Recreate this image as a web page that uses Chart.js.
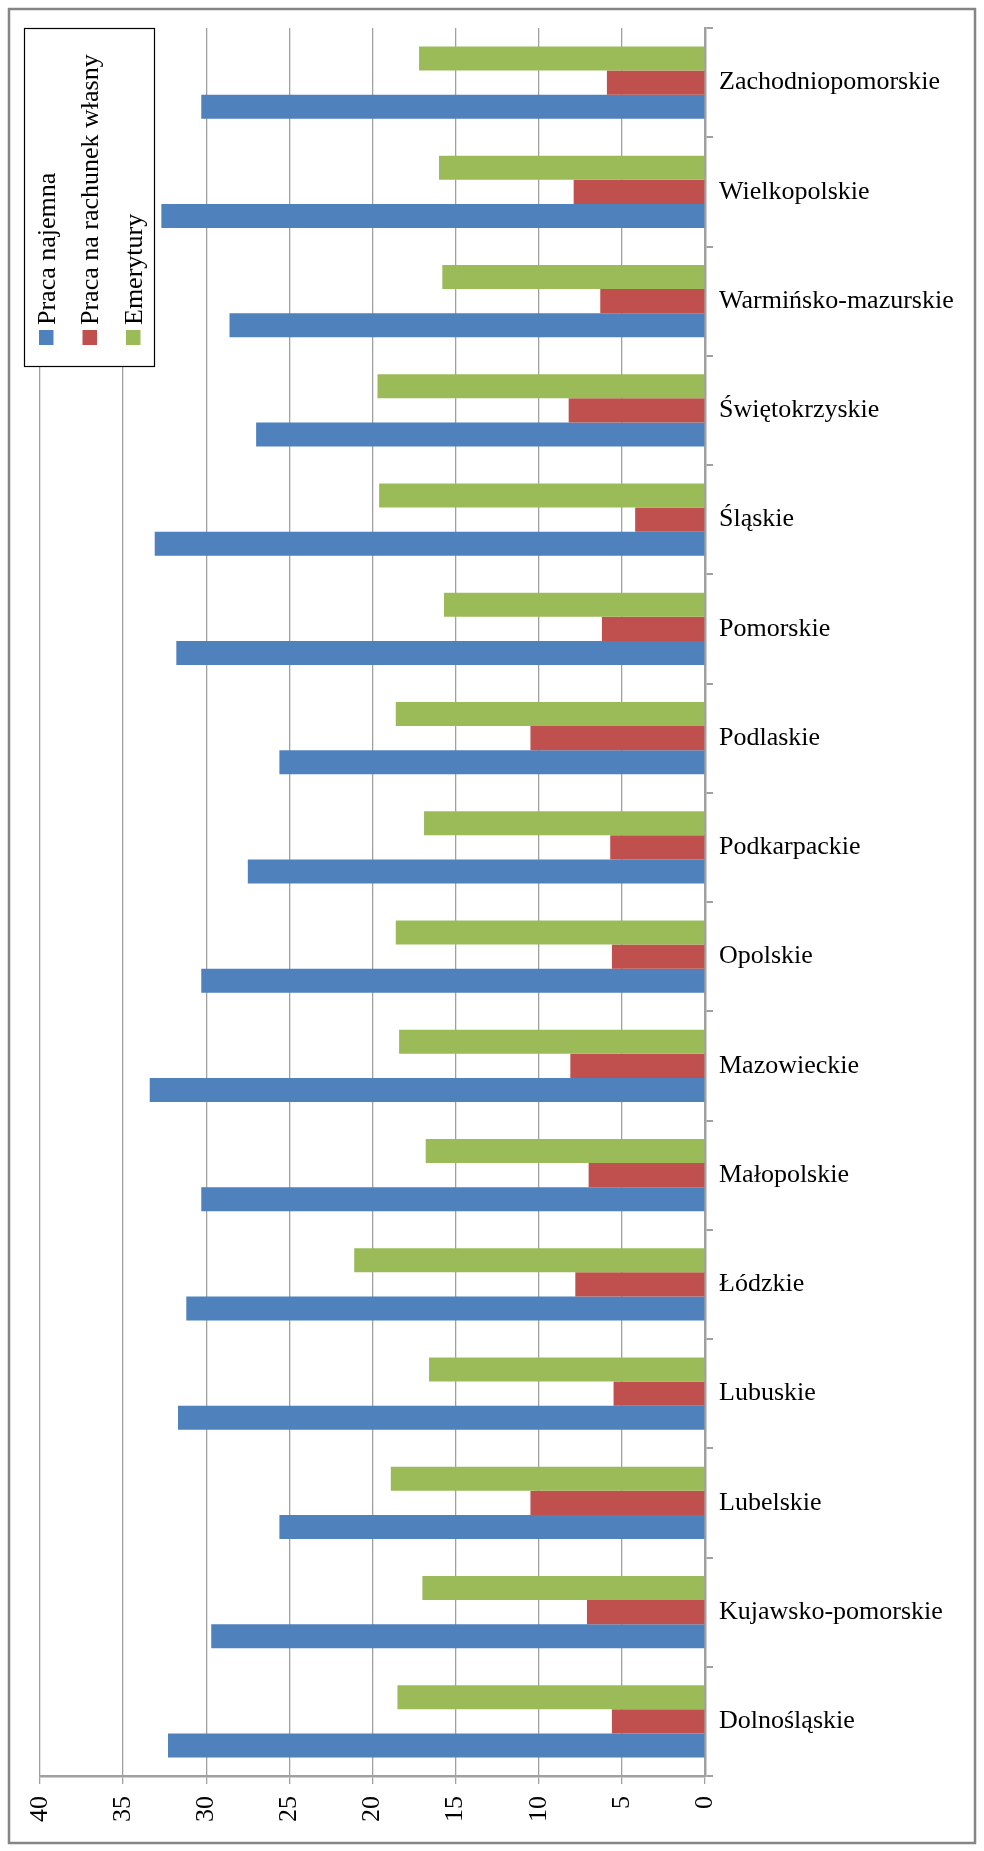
<!DOCTYPE html>
<html>
<head>
<meta charset="utf-8">
<script src="https://cdn.jsdelivr.net/npm/chart.js@4/dist/chart.umd.min.js"></script>
<style>
  body { margin: 0; background: #fff; }
  canvas { display: block; }
</style>
</head>
<body>
<canvas id="wykres" width="984" height="1851"></canvas>
<script>
// ===============================
// DANE (od góry wykresu do dołu)
// ===============================
const wojewodztwa = [
  'Zachodniopomorskie', 'Wielkopolskie', 'Warmińsko-mazurskie', 'Świętokrzyskie',
  'Śląskie', 'Pomorskie', 'Podlaskie', 'Podkarpackie', 'Opolskie', 'Mazowieckie',
  'Małopolskie', 'Łódzkie', 'Lubuskie', 'Lubelskie', 'Kujawsko-pomorskie', 'Dolnośląskie'
];
const pracaNajemna   = [30.3, 32.7, 28.6, 27.0, 33.1, 31.8, 25.6, 27.5, 30.3, 33.4, 30.3, 31.2, 31.7, 25.6, 29.7, 32.3];
const rachunekWlasny = [ 5.9,  7.9,  6.3,  8.2,  4.2,  6.2, 10.5,  5.7,  5.6,  8.1,  7.0,  7.8,  5.5, 10.5,  7.1,  5.6];
const emerytury      = [17.2, 16.0, 15.8, 19.7, 19.6, 15.7, 18.6, 16.9, 18.6, 18.4, 16.8, 21.1, 16.6, 18.9, 17.0, 18.5];
const podzialka = [0, 5, 10, 15, 20, 25, 30, 35, 40];

const nazwySerii = ['Praca najemna', 'Praca na rachunek własny', 'Emerytury'];
const kolory = ['#4F81BD', '#C0504D', '#9BBB59'];

const SZARY = '#a0a0a0';
Chart.defaults.font.family = '"Liberation Serif", "Times New Roman", serif';
Chart.defaults.font.size = 26;
Chart.defaults.color = '#000';

// ===============================
// RAMKA + LEGENDA (tekst obrócony)
// ===============================
const ramka = {
  id: 'ramka',
  beforeDraw(chart) {
    const c = chart.ctx;
    c.save();
    c.fillStyle = '#fff';
    c.fillRect(0, 0, chart.width, chart.height);
    c.strokeStyle = '#858585';
    c.lineWidth = 2.5;
    c.strokeRect(9, 9, chart.width - 18, chart.height - 17);
    c.restore();
  }
};

const legenda = {
  id: 'legenda',
  afterDraw(chart) {
    const c = chart.ctx;
    c.save();
    c.fillStyle = '#fff';
    c.fillRect(24, 28, 130, 338);
    c.strokeStyle = '#000';
    c.lineWidth = 1.2;
    c.strokeRect(24.5, 28.5, 130, 338);
    c.font = '26px "Liberation Serif", "Times New Roman", serif';
    c.textAlign = 'left';
    c.textBaseline = 'alphabetic';
    nazwySerii.forEach((nazwa, i) => {
      const x = 54.5 + i * 43.5;
      c.fillStyle = kolory[i];
      c.fillRect(x - 15.5, 330, 14.5, 15);
      c.save();
      c.translate(x, 325);
      c.rotate(-Math.PI / 2);
      c.fillStyle = '#000';
      c.fillText(nazwa, 0, 0);
      c.restore();
    });
    c.restore();
  }
};

// ===============================
// WYKRES
// ===============================
const serie = [
  { label: nazwySerii[2], data: emerytury,      backgroundColor: kolory[2] },
  { label: nazwySerii[1], data: rachunekWlasny, backgroundColor: kolory[1] },
  { label: nazwySerii[0], data: pracaNajemna,   backgroundColor: kolory[0] }
];

new Chart(document.getElementById('wykres'), {
  type: 'bar',
  data: {
    labels: wojewodztwa,
    datasets: serie.map(s => ({ ...s, barPercentage: 1, categoryPercentage: 0.66, borderWidth: 0 }))
  },
  options: {
    indexAxis: 'y',
    responsive: false,
    animation: false,
    layout: { padding: { left: 40, top: 28, right: 0, bottom: 0 } },
    plugins: { legend: { display: false }, tooltip: { enabled: false } },
    scales: {
      x: {
        reverse: true, min: 0, max: 40,
        afterBuildTicks: s => { s.ticks = podzialka.map(v => ({ value: v })); },
        afterFit: s => { s.height = 75; },
        ticks: { minRotation: 90, maxRotation: 90, padding: 12 },
        grid: { color: SZARY, lineWidth: 1.3, tickLength: 8 },
        border: { color: SZARY, width: 2.5 }
      },
      y: {
        position: 'right',
        afterFit: s => { s.width = 279; },
        ticks: { padding: 6 },
        grid: { drawOnChartArea: false, offset: true, tickLength: 8, color: SZARY, lineWidth: 2 },
        border: { color: SZARY, width: 2.5 }
      }
    }
  },
  plugins: [ramka, legenda]
});
</script>
</body>
</html>
